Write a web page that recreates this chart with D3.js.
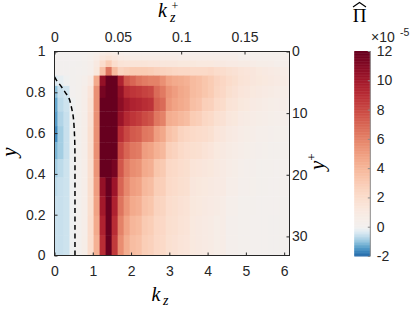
<!DOCTYPE html>
<html><head><meta charset="utf-8">
<script src="https://cdn.jsdelivr.net/npm/d3@7"></script>
<style>body{margin:0;background:#fff}svg{display:block}</style>
</head><body><svg id="c" width="415" height="312"></svg>
<script>
// kz centres (2*pi/Lz steps) and y cell edges (wall y=1 at top, centre y=0 at bottom)
const kz = [0,0.157,0.314,0.471,0.628,0.785,0.942,1.100,1.257,1.414,1.571,1.728,1.885,2.042,2.199,2.356,2.513,2.670,2.827,2.985,3.142,3.299,3.456,3.613,3.770,3.927,4.084,4.241,4.398,4.555,4.712,4.869,5.027,5.184,5.341,5.498,5.655,5.812,5.969,6.126];
const yEdges = [1,0.9952,0.9808,0.9569,0.9239,0.8819,0.8315,0.7730,0.7071,0.6344,0.5556,0.4714,0.3827,0.2903,0.1951,0.0980,0];
// Pi-hat values (x1e-5), one row per y cell, top to bottom
const piHat = [
 [0,0,0,0,0,0,0.1,0.2,0.4,0.5,0.4,0.3,0.2,0.2,0.2,0.2,0.2,0.2,0.2,0.2,0.2,0.15,0.15,0.15,0.15,0.15,0.15,0.15,0.15,0.15,0.15,0.1,0.1,0.1,0.1,0.1,0.1,0.1,0.1,0.1],
 [0,0,0,0,0,0,0.2,0.4,0.8,1.0,0.8,0.5,0.4,0.4,0.4,0.4,0.4,0.4,0.4,0.4,0.4,0.3,0.3,0.3,0.3,0.3,0.3,0.3,0.3,0.3,0.3,0.15,0.15,0.15,0.15,0.15,0.15,0.15,0.15,0.15],
 [0,0,0,0,0,0.1,0.3,0.7,1.3,1.6,1.3,0.9,0.8,0.7,0.7,0.7,0.7,0.7,0.7,0.7,0.7,0.5,0.5,0.5,0.5,0.5,0.5,0.5,0.5,0.5,0.5,0.3,0.3,0.3,0.3,0.3,0.3,0.3,0.3,0.3],
 [0,0,0,0,0.05,0.15,0.4,1.0,2.0,3.0,2.0,1.6,1.5,1.5,1.5,1.5,1.4,1.4,1.3,1.3,1.3,1.2,1.2,1.2,1.1,1.1,1.1,1.0,1.0,0.9,0.9,0.8,0.8,0.7,0.6,0.6,0.5,0.4,0.4,0.35],
 [0,0,0,0.05,0.1,0.2,0.4,1.2,3.5,6.5,3.8,2.6,2.8,3.0,3.0,3.0,2.9,2.7,2.6,2.5,2.4,2.3,2.3,2.2,2.2,2.2,2.3,2.1,2.0,1.8,1.7,1.5,1.4,1.3,1.1,1.0,0.9,0.8,0.7,0.6],
 [-0.35,-0.2,-0.05,0.05,0.2,0.4,0.9,4.5,10.5,13.5,13,9.5,7.5,7.0,6.5,6.2,6.0,6.0,5.5,4.8,4.5,4.4,4.2,3.8,3.6,3.3,3.0,2.6,2.4,2.1,1.9,1.6,1.5,1.3,1.2,1.1,1.0,0.9,0.8,0.7],
 [-1.0,-0.55,-0.45,0,0.2,0.5,1.4,5.5,11.5,14,14,10.5,9.0,8.7,8.5,8.2,8.0,6.8,6.3,5.4,5.0,4.6,4.4,3.8,3.6,3.3,3.0,2.5,2.3,1.9,1.7,1.4,1.3,1.1,1.0,0.9,0.8,0.7,0.6,0.5],
 [-1.3,-0.65,-0.5,-0.05,0.2,0.5,1.6,5.5,13,14,14,10.8,10.0,9.5,9.3,9.0,8.8,7.2,6.8,5.2,4.8,4.5,4.3,3.6,3.4,2.8,2.7,2.2,2.1,1.6,1.5,1.2,1.1,0.9,0.8,0.7,0.6,0.5,0.5,0.4],
 [-1.4,-0.75,-0.55,-0.05,0.2,0.5,1.7,5.5,13,14,14,10.3,9.2,8.7,8.4,7.9,7.6,6.4,6.0,4.4,4.2,3.9,3.7,3.0,2.8,2.4,2.2,1.8,1.7,1.3,1.2,0.9,0.8,0.7,0.6,0.5,0.45,0.4,0.35,0.3],
 [-1.6,-0.85,-0.55,-0.05,0.2,0.5,1.8,5.5,13,14,13.5,9.0,8.0,7.4,7.2,6.4,6.2,5.0,4.6,3.5,3.2,2.6,2.4,2.2,2.1,2.0,1.8,1.4,1.3,1.0,0.9,0.7,0.6,0.5,0.4,0.35,0.3,0.25,0.25,0.2],
 [-1.15,-0.85,-0.55,-0.05,0.2,0.5,1.8,5.5,13,14,13,8.0,7.0,6.4,6.2,5.0,4.8,4.2,3.9,2.8,2.6,2.2,2.0,1.9,1.8,1.6,1.4,1.1,1.0,0.8,0.7,0.5,0.45,0.4,0.3,0.25,0.2,0.2,0.15,0.15],
 [-0.85,-0.65,-0.5,-0.05,0.2,0.5,1.8,5.3,12.5,14,11.5,7.5,6.2,5.6,5.4,4.5,4.3,3.3,3.1,2.3,2.2,2.0,1.9,1.5,1.4,1.3,1.2,1.0,0.9,0.7,0.6,0.35,0.3,0.3,0.2,0.15,0.15,0.1,0.1,0.1],
 [-0.65,-0.55,-0.5,-0.05,0.2,0.5,1.9,5.0,10.5,14,10.2,7.0,5.8,5.0,4.8,3.9,3.7,2.9,2.8,2.2,2.1,1.9,1.8,1.3,1.2,1.1,1.0,0.9,0.9,0.5,0.5,0.3,0.3,0.25,0.15,0.15,0.1,0.1,0.1,0.1],
 [-0.55,-0.55,-0.5,-0.05,0.2,0.5,1.9,4.8,10,14,9.5,6.5,5.3,4.5,4.3,3.5,3.3,2.6,2.5,2.0,1.9,1.7,1.6,1.2,1.1,1.0,0.9,0.8,0.7,0.4,0.4,0.2,0.2,0.15,0.1,0.1,0.1,0.1,0.05,0.05],
 [-0.55,-0.55,-0.5,-0.05,0.2,0.5,2.0,4.5,9.5,14,9.0,6.0,4.8,4.0,3.8,3.1,2.9,2.4,2.3,1.9,1.8,1.6,1.5,1.1,1.0,0.9,0.8,0.6,0.7,0.3,0.3,0.15,0.15,0.1,0.1,0.1,0.05,0.05,0.05,0.05],
 [-0.55,-0.55,-0.5,-0.05,0.2,0.6,2.0,4.2,9.0,14,8.5,5.6,4.4,3.7,3.5,2.9,2.7,2.3,2.2,1.8,1.7,1.5,1.4,1.1,1.0,0.9,0.8,0.6,0.7,0.3,0.3,0.15,0.15,0.1,0.1,0.1,0.05,0.05,0.05,0.05]
];
// zero contour (kz, y)
const zeroContour = [[0,0.875],[0.05,0.86],[0.17,0.83],[0.28,0.80],[0.38,0.77],[0.45,0.72],[0.49,0.68],[0.515,0.62],[0.53,0.55],[0.535,0.45],[0.535,0.3],[0.535,0.15],[0.535,0]];
const xTicks = [0,1,2,3,4,5,6];
const yTicks = [0,0.2,0.4,0.6,0.8,1];
const kzPlusTicks = [0,0.05,0.1,0.15];
const yPlusTicks = [0,10,20,30];
const cbTicks = [-2,0,2,4,6,8,10,12];
const cbRange = [-2,12];
const ReTau = 33.1;
const kzMax = 6.14;

const svg = d3.select('#c');
const M = {l:54.5, r:289.5, t:51.5, b:255.5};
const AX = '#262626';
const SANS = '"Liberation Sans", Arial, Helvetica, sans-serif';
const SERIF = '"Liberation Serif", "Times New Roman", serif';

const x = d3.scaleLinear().domain([0,kzMax]).range([M.l,M.r]);
const y = d3.scaleLinear().domain([0,1]).range([M.b,M.t]);
const xp = d3.scaleLinear().domain([0,kzMax/ReTau]).range([M.l,M.r]);
const yp = d3.scaleLinear().domain([0,ReTau]).range([M.t,M.b]);
const color = v => v >= 0
  ? d3.interpolateRdBu(0.5 - 0.5*Math.min(v,12)/12)
  : d3.interpolateRdBu(0.5 + 0.2*Math.min(-v,2));

svg.append('clipPath').attr('id','clip').append('rect')
  .attr('x',M.l).attr('y',M.t).attr('width',M.r-M.l).attr('height',M.b-M.t);

const cellsG = svg.append('g').attr('clip-path','url(#clip)');
const n = kz.length;
const xl = i => i===0 ? kz[0]-(kz[1]-kz[0])/2 : (kz[i-1]+kz[i])/2;
const xr = i => i===n-1 ? kz[i]+(kz[i]-kz[i-1])/2 : (kz[i]+kz[i+1])/2;
const cells = [];
piHat.forEach((row,j)=>row.forEach((v,i)=>cells.push({i,j,v})));
cellsG.selectAll('rect').data(cells).join('rect')
  .attr('x',d=>x(xl(d.i)))
  .attr('width',d=>x(xr(d.i))-x(xl(d.i))+0.4)
  .attr('y',d=>y(yEdges[d.j]))
  .attr('height',d=>y(yEdges[d.j+1])-y(yEdges[d.j])+0.4)
  .attr('fill',d=>color(d.v));

cellsG.append('path').datum(zeroContour)
  .attr('d',d3.line().x(d=>x(d[0])).y(d=>y(d[1])).curve(d3.curveCatmullRom))
  .attr('fill','none').attr('stroke','#000').attr('stroke-width',1.5)
  .attr('stroke-dasharray','5,3.5');

svg.append('rect').attr('x',M.l).attr('y',M.t).attr('width',M.r-M.l).attr('height',M.b-M.t)
  .attr('fill','none').attr('stroke',AX).attr('stroke-width',1);

function styleAxis(g){
  g.select('.domain').remove();
  g.selectAll('.tick line').attr('stroke',AX);
  g.selectAll('text').attr('fill',AX).attr('font-family',SANS).attr('font-size',14);
}
const fmt = d => String(d);
svg.append('g').attr('transform',`translate(0,${M.b})`)
  .call(d3.axisBottom(x).tickValues(xTicks).tickFormat(fmt).tickSizeInner(-3).tickSizeOuter(0).tickPadding(11)).call(styleAxis);
svg.append('g').attr('transform',`translate(${M.l},0)`)
  .call(d3.axisLeft(y).tickValues(yTicks).tickFormat(fmt).tickSizeInner(-3).tickSizeOuter(0).tickPadding(9)).call(styleAxis);
svg.append('g').attr('transform',`translate(0,${M.t})`)
  .call(d3.axisTop(xp).tickValues(kzPlusTicks).tickFormat(fmt).tickSizeInner(-3).tickSizeOuter(0).tickPadding(10)).call(styleAxis);
svg.append('g').attr('transform',`translate(${M.r},0)`)
  .call(d3.axisRight(yp).tickValues(yPlusTicks).tickFormat(fmt).tickSizeInner(-3).tickSizeOuter(0).tickPadding(2.5)).call(styleAxis);

// axis titles
const bl = svg.append('text').attr('font-family',SERIF).attr('font-style','italic').attr('fill','#000');
bl.append('tspan').attr('x',151.5).attr('y',301).attr('font-size',20).text('k');
bl.append('tspan').attr('x',163).attr('y',305).attr('font-size',14).text('z');

const tl = svg.append('text').attr('font-family',SERIF).attr('font-style','italic').attr('fill','#000');
tl.append('tspan').attr('x',158).attr('y',16.5).attr('font-size',20).text('k');
tl.append('tspan').attr('x',170).attr('y',22).attr('font-size',14).text('z');
tl.append('tspan').attr('x',171.5).attr('y',10).attr('font-size',12).attr('font-style','normal').text('+');

svg.append('text').attr('transform','translate(15.5,152) rotate(-90)')
  .attr('text-anchor','middle').attr('font-family',SERIF).attr('font-style','italic')
  .attr('font-size',21).attr('fill','#000').text('y');

const yr = svg.append('text').attr('transform','translate(324,170) rotate(-90)')
  .attr('font-family',SERIF).attr('font-style','italic').attr('fill','#000');
yr.append('tspan').attr('font-size',21).text('y');
yr.append('tspan').attr('font-size',13).attr('font-style','normal').attr('dy',-8).text('+');

// colorbar
const cb = {x0:354.3, x1:370.3};
const cy = d3.scaleLinear().domain(cbRange).range([256,51]);
const steps = d3.range(cbRange[0], cbRange[1], 0.05);
svg.append('g').selectAll('rect').data(steps).join('rect')
  .attr('x',cb.x0).attr('width',cb.x1-cb.x0)
  .attr('y',d=>cy(d+0.05)).attr('height',d=>cy(d)-cy(d+0.05)+0.5)
  .attr('fill',d=>color(d+0.025));
svg.append('line').attr('x1',cb.x1).attr('x2',cb.x1).attr('y1',cy(12)).attr('y2',cy(-2))
  .attr('stroke','#8a8a8a').attr('stroke-width',1);
svg.append('g').attr('transform',`translate(${cb.x1},0)`)
  .call(d3.axisRight(cy).tickValues(cbTicks).tickFormat(fmt).tickSizeInner(-2.5).tickSizeOuter(0).tickPadding(6.5))
  .call(styleAxis).call(g=>g.selectAll('.tick line').attr('stroke','#8a8a8a'));

const ex = svg.append('text').attr('font-family',SANS).attr('fill',AX);
ex.append('tspan').attr('x',371).attr('y',42).attr('font-size',14).text('×10');
ex.append('tspan').attr('x',400).attr('y',36).attr('font-size',10.5).text('-5');

// Pi with a wide hat
svg.append('text').attr('x',359.5).attr('y',22).attr('text-anchor','middle')
  .attr('font-family',SERIF).attr('font-size',19).attr('fill','#000').text('Π');
svg.append('path').attr('d','M353,7 L359.5,2.5 L366,7')
  .attr('fill','none').attr('stroke','#000').attr('stroke-width',1.1);
</script></body></html>
